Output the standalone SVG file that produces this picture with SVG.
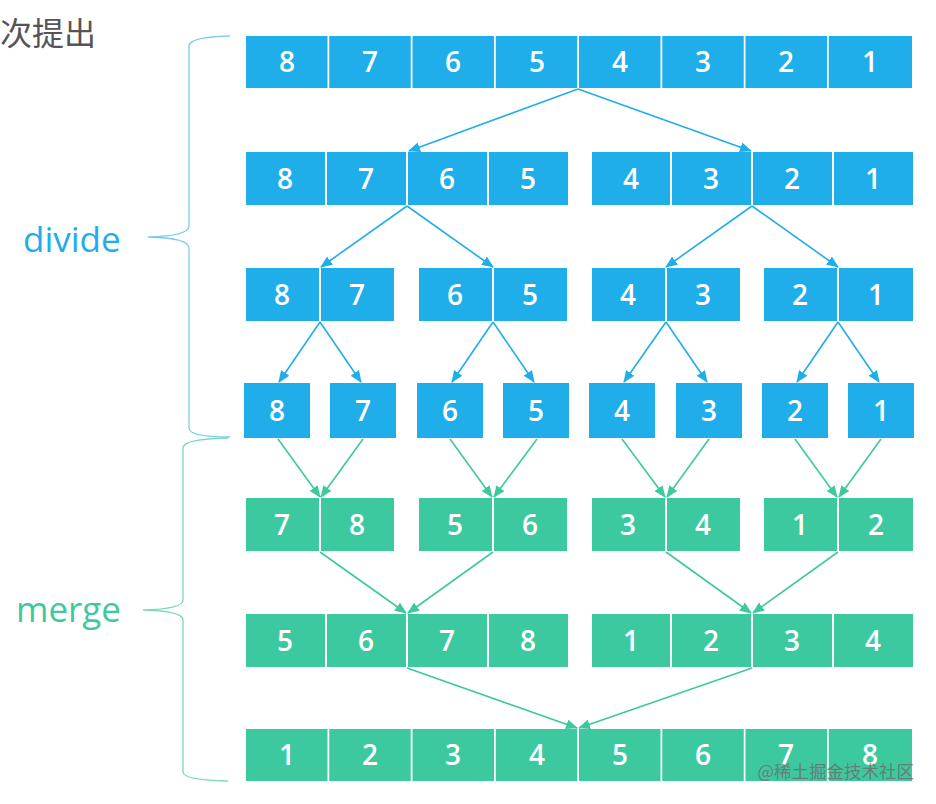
<svg xmlns="http://www.w3.org/2000/svg" width="936" height="804" viewBox="0 0 936 804">
<style>
.b{fill:#1FAEEA}
.g{fill:#3DC9A0}
.t{fill:#fff;font-family:"Open Sans","Liberation Sans",sans-serif;font-size:28px;font-weight:600;text-anchor:middle}
.lb{stroke:#1FAEEA;stroke-width:1.6;fill:none}
.lg{stroke:#3DC9A0;stroke-width:1.6;fill:none}
</style>
<defs>
<marker id="ab" markerUnits="userSpaceOnUse" markerWidth="12" markerHeight="10" refX="11" refY="5" orient="auto"><path d="M0,0 L12,5 L0,10 Z" fill="#1FAEEA"/></marker>
<marker id="ag" markerUnits="userSpaceOnUse" markerWidth="12" markerHeight="10" refX="11" refY="5" orient="auto"><path d="M0,0 L12,5 L0,10 Z" fill="#3DC9A0"/></marker>
</defs>
<rect width="936" height="804" fill="#fff"/>
<text x="0" y="45" font-family="'Noto Sans CJK SC',sans-serif" font-size="32" fill="#555">次提出</text>
<g id="labels">
<text x="23" y="252" font-family="'Open Sans','Liberation Sans',sans-serif" font-size="35" fill="#1FAEEA">divide</text>
<text x="16" y="622" font-family="'Open Sans','Liberation Sans',sans-serif" font-size="35" fill="#3DC9A0">merge</text>
</g>
<g id="braces" fill="none" stroke-width="1.3">
<path d="M230,36 Q189,37 189,46 L189,226 Q189,236 148,237 Q189,238 189,248 L189,428 Q189,437 230,437" stroke="#7CCCF0"/>
<path d="M228,438 Q183,439 183,448 L183,600 Q183,609 143,610 Q183,611 183,620 L183,772 Q183,780 228,781" stroke="#7AD8BC"/>
</g>
<g id="row1">
<rect class="b" x="246" y="36" width="81.5" height="52"/><rect class="b" x="329.25" y="36" width="81.5" height="52"/><rect class="b" x="412.5" y="36" width="81.5" height="52"/><rect class="b" x="495.75" y="36" width="81.5" height="52"/><rect class="b" x="579" y="36" width="81.5" height="52"/><rect class="b" x="662.25" y="36" width="81.5" height="52"/><rect class="b" x="745.5" y="36" width="81.5" height="52"/><rect class="b" x="828.75" y="36" width="83.25" height="52"/>
<text class="t" x="287" y="72">8</text><text class="t" x="370" y="72">7</text><text class="t" x="453" y="72">6</text><text class="t" x="537" y="72">5</text><text class="t" x="620" y="72">4</text><text class="t" x="703" y="72">3</text><text class="t" x="786" y="72">2</text><text class="t" x="870" y="72">1</text>
</g>
<g id="row2a">
<rect class="b" x="246" y="152" width="79" height="53"/><rect class="b" x="327" y="152" width="79" height="53"/><rect class="b" x="408" y="152" width="79" height="53"/><rect class="b" x="489" y="152" width="79" height="53"/>
<text class="t" x="285" y="189">8</text><text class="t" x="366" y="189">7</text><text class="t" x="447" y="189">6</text><text class="t" x="528" y="189">5</text>
</g>
<g id="row2b">
<rect class="b" x="592" y="152" width="78" height="53"/><rect class="b" x="672" y="152" width="79" height="53"/><rect class="b" x="753" y="152" width="79" height="53"/><rect class="b" x="834" y="152" width="79" height="53"/>
<text class="t" x="631" y="189">4</text><text class="t" x="711" y="189">3</text><text class="t" x="792" y="189">2</text><text class="t" x="873" y="189">1</text>
</g>
<g id="row3a"><rect class="b" x="246" y="268" width="73" height="53"/><rect class="b" x="321" y="268" width="73" height="53"/><text class="t" x="282" y="305">8</text><text class="t" x="357" y="305">7</text></g>
<g id="row3b"><rect class="b" x="419" y="268" width="73" height="53"/><rect class="b" x="494" y="268" width="73" height="53"/><text class="t" x="455" y="305">6</text><text class="t" x="530" y="305">5</text></g>
<g id="row3c"><rect class="b" x="592" y="268" width="73" height="53"/><rect class="b" x="667" y="268" width="73" height="53"/><text class="t" x="628" y="305">4</text><text class="t" x="703" y="305">3</text></g>
<g id="row3d"><rect class="b" x="764" y="268" width="73" height="53"/><rect class="b" x="839" y="268" width="74" height="53"/><text class="t" x="800" y="305">2</text><text class="t" x="876" y="305">1</text></g>
<g id="row4">
<rect class="b" x="244" y="383" width="66" height="55"/><rect class="b" x="330" y="383" width="66" height="55"/><rect class="b" x="417" y="383" width="66" height="55"/><rect class="b" x="503" y="383" width="66" height="55"/><rect class="b" x="589" y="383" width="66" height="55"/><rect class="b" x="676" y="383" width="66" height="55"/><rect class="b" x="762" y="383" width="66" height="55"/><rect class="b" x="848" y="383" width="66" height="55"/>
<text class="t" x="277" y="421">8</text><text class="t" x="363" y="421">7</text><text class="t" x="450" y="421">6</text><text class="t" x="536" y="421">5</text><text class="t" x="622" y="421">4</text><text class="t" x="709" y="421">3</text><text class="t" x="795" y="421">2</text><text class="t" x="881" y="421">1</text>
</g>
<g id="row5a"><rect class="g" x="246" y="498" width="73" height="53"/><rect class="g" x="321" y="498" width="73" height="53"/><text class="t" x="282" y="535">7</text><text class="t" x="357" y="535">8</text></g>
<g id="row5b"><rect class="g" x="419" y="498" width="73" height="53"/><rect class="g" x="494" y="498" width="73" height="53"/><text class="t" x="455" y="535">5</text><text class="t" x="530" y="535">6</text></g>
<g id="row5c"><rect class="g" x="592" y="498" width="73" height="53"/><rect class="g" x="667" y="498" width="73" height="53"/><text class="t" x="628" y="535">3</text><text class="t" x="703" y="535">4</text></g>
<g id="row5d"><rect class="g" x="764" y="498" width="73" height="53"/><rect class="g" x="839" y="498" width="74" height="53"/><text class="t" x="800" y="535">1</text><text class="t" x="876" y="535">2</text></g>
<g id="row6a">
<rect class="g" x="246" y="614" width="79" height="53"/><rect class="g" x="327" y="614" width="79" height="53"/><rect class="g" x="408" y="614" width="79" height="53"/><rect class="g" x="489" y="614" width="79" height="53"/>
<text class="t" x="285" y="651">5</text><text class="t" x="366" y="651">6</text><text class="t" x="447" y="651">7</text><text class="t" x="528" y="651">8</text>
</g>
<g id="row6b">
<rect class="g" x="592" y="614" width="78" height="53"/><rect class="g" x="672" y="614" width="79" height="53"/><rect class="g" x="753" y="614" width="79" height="53"/><rect class="g" x="834" y="614" width="79" height="53"/>
<text class="t" x="631" y="651">1</text><text class="t" x="711" y="651">2</text><text class="t" x="792" y="651">3</text><text class="t" x="873" y="651">4</text>
</g>
<g id="row7">
<rect class="g" x="246" y="729" width="81.5" height="52"/><rect class="g" x="329.25" y="729" width="81.5" height="52"/><rect class="g" x="412.5" y="729" width="81.5" height="52"/><rect class="g" x="495.75" y="729" width="81.5" height="52"/><rect class="g" x="579" y="729" width="81.5" height="52"/><rect class="g" x="662.25" y="729" width="81.5" height="52"/><rect class="g" x="745.5" y="729" width="81.5" height="52"/><rect class="g" x="828.75" y="729" width="83.25" height="52"/>
<text class="t" x="287" y="765">1</text><text class="t" x="370" y="765">2</text><text class="t" x="453" y="765">3</text><text class="t" x="537" y="765">4</text><text class="t" x="620" y="765">5</text><text class="t" x="703" y="765">6</text><text class="t" x="786" y="765">7</text><text class="t" x="870" y="765">8</text>
</g>
<g id="connectors">
<path class="lb" marker-end="url(#ab)" d="M578,89 L409,151"/>
<path class="lb" marker-end="url(#ab)" d="M578,89 L751,151"/>
<path class="lb" marker-end="url(#ab)" d="M407,206 L321,267"/>
<path class="lb" marker-end="url(#ab)" d="M407,206 L493,267"/>
<path class="lb" marker-end="url(#ab)" d="M752,206 L666,267"/>
<path class="lb" marker-end="url(#ab)" d="M752,206 L838,267"/>
<path class="lb" marker-end="url(#ab)" d="M320,322 L279,382"/>
<path class="lb" marker-end="url(#ab)" d="M320,322 L361,382"/>
<path class="lb" marker-end="url(#ab)" d="M493,322 L452,382"/>
<path class="lb" marker-end="url(#ab)" d="M493,322 L534,382"/>
<path class="lb" marker-end="url(#ab)" d="M666,322 L624,382"/>
<path class="lb" marker-end="url(#ab)" d="M666,322 L707,382"/>
<path class="lb" marker-end="url(#ab)" d="M838,322 L797,382"/>
<path class="lb" marker-end="url(#ab)" d="M838,322 L879,382"/>
<path class="lg" marker-end="url(#ag)" d="M278,439 L320,497"/>
<path class="lg" marker-end="url(#ag)" d="M363,439 L321,497"/>
<path class="lg" marker-end="url(#ag)" d="M450,439 L492,497"/>
<path class="lg" marker-end="url(#ag)" d="M537,439 L494,497"/>
<path class="lg" marker-end="url(#ag)" d="M622,439 L665,497"/>
<path class="lg" marker-end="url(#ag)" d="M709,439 L667,497"/>
<path class="lg" marker-end="url(#ag)" d="M795,439 L837,497"/>
<path class="lg" marker-end="url(#ag)" d="M881,439 L839,497"/>
<path class="lg" marker-end="url(#ag)" d="M320,552 L406,613"/>
<path class="lg" marker-end="url(#ag)" d="M493,552 L408,613"/>
<path class="lg" marker-end="url(#ag)" d="M666,552 L751,613"/>
<path class="lg" marker-end="url(#ag)" d="M838,552 L753,613"/>
<path class="lg" marker-end="url(#ag)" d="M407,668 L577,728"/>
<path class="lg" marker-end="url(#ag)" d="M752,668 L579,728"/>
</g>
<text x="914" y="778" text-anchor="end" font-family="'Noto Sans CJK SC',sans-serif" font-size="17.5" fill="#6f6f6f" fill-opacity="0.85">@稀土掘金技术社区</text>
</svg>
